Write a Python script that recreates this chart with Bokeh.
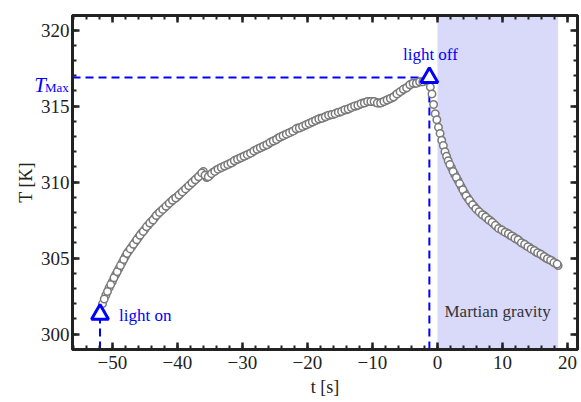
from bokeh.plotting import figure
from bokeh.models import (Range1d, FixedTicker, LinearAxis, BoxAnnotation, Label)
from bokeh.embed import file_html
from bokeh.resources import INLINE

# ---------------- data ----------------
heat_t = [-51.5, -51.0, -50.5, -50.0, -49.5, -49.0, -48.5, -48.0, -47.5, -47.0,
          -46.5, -46.0, -45.5, -45.0, -44.5, -44.0, -43.5, -43.0, -42.5, -42.0,
          -41.5, -41.0, -40.5, -40.0, -39.5, -39.0, -38.5, -38.0, -37.5, -37.0,
          -36.5, -36.0, -35.5, -35.0, -34.5, -34.0, -33.5, -33.0, -32.5, -32.0,
          -31.5, -31.0, -30.5, -30.0, -29.5, -29.0, -28.5, -28.0, -27.5, -27.0,
          -26.5, -26.0, -25.5, -25.0, -24.5, -24.0, -23.5, -23.0, -22.5, -22.0,
          -21.5, -21.0, -20.5, -20.0, -19.5, -19.0, -18.5, -18.0, -17.5, -17.0,
          -16.5, -16.0, -15.5, -15.0, -14.5, -14.0, -13.5, -13.0, -12.5, -12.0,
          -11.5, -11.0, -10.5, -10.0, -9.5, -9.0, -8.5, -8.0, -7.5, -7.0,
          -6.5, -6.0, -5.5, -5.0, -4.5, -4.0, -3.5, -3.0, -2.5, -2.0, -1.5]
heat_T = [302.0, 302.55, 303.05, 303.45, 303.9, 304.3, 304.7, 305.1, 305.45, 305.75,
          306.05, 306.35, 306.65, 306.9, 307.15, 307.4, 307.65, 307.9, 308.1, 308.3,
          308.5, 308.7, 308.9, 309.05, 309.25, 309.45, 309.65, 309.85, 310.05, 310.25,
          310.45, 310.7, 310.3, 310.45, 310.65, 310.8, 310.9, 311.0, 311.1, 311.2,
          311.3, 311.45, 311.55, 311.65, 311.75, 311.85, 311.95, 312.1, 312.2, 312.3,
          312.4, 312.5, 312.65, 312.75, 312.9, 313.0, 313.1, 313.2, 313.3, 313.4,
          313.55, 313.6, 313.7, 313.8, 313.9, 314.0, 314.1, 314.2, 314.25, 314.35,
          314.4, 314.45, 314.55, 314.6, 314.7, 314.75, 314.85, 314.95, 315.0, 315.1,
          315.2, 315.25, 315.3, 315.3, 315.25, 315.2, 315.25, 315.35, 315.45, 315.55,
          315.7, 315.85, 316.0, 316.15, 316.3, 316.45, 316.5, 316.55, 316.6, 316.65, 316.75]

heat2_t = [-51.25, -50.75, -50.25, -49.75, -49.25, -48.75, -48.25, -47.75, -47.25, -46.75,
           -46.25, -45.75, -45.25, -44.75, -44.25, -43.75, -43.25, -42.75, -42.25, -41.75,
           -41.25, -40.75, -40.25, -39.75, -39.25, -38.75, -38.25, -37.75, -37.25, -36.75,
           -36.25, -35.75, -35.25, -34.75, -34.25, -33.75, -33.25, -32.75, -32.25, -31.75,
           -31.25, -30.75, -30.25, -29.75, -29.25, -28.75, -28.25, -27.75, -27.25, -26.75,
           -26.25, -25.75, -25.25, -24.75, -24.25, -23.75, -23.25, -22.75, -22.25, -21.75,
           -21.25, -20.75, -20.25, -19.75, -19.25, -18.75, -18.25, -17.75, -17.25, -16.75,
           -16.25, -15.75, -15.25, -14.75, -14.25, -13.75, -13.25, -12.75, -12.25, -11.75,
           -11.25, -10.75, -10.25, -9.75, -9.25, -8.75, -8.25, -7.75, -7.25, -6.75,
           -6.25, -5.75, -5.25, -4.75, -4.25, -3.75, -3.25, -2.75, -2.25, -1.75]
heat2_T = [302.3, 302.8, 303.25, 303.7, 304.1, 304.5, 304.9, 305.3, 305.6, 305.9,
           306.2, 306.5, 306.75, 307.05, 307.3, 307.5, 307.8, 308.0, 308.2, 308.4,
           308.6, 308.8, 308.95, 309.15, 309.35, 309.55, 309.75, 309.95, 310.15, 310.35,
           310.6, 310.45, 310.35, 310.55, 310.7, 310.85, 310.95, 311.05, 311.15, 311.25,
           311.4, 311.5, 311.6, 311.7, 311.8, 311.9, 312.05, 312.15, 312.25, 312.35,
           312.45, 312.6, 312.7, 312.8, 312.95, 313.05, 313.15, 313.25, 313.35, 313.5,
           313.55, 313.65, 313.75, 313.85, 313.95, 314.05, 314.15, 314.2, 314.3, 314.4,
           314.45, 314.5, 314.6, 314.65, 314.75, 314.8, 314.9, 315.0, 315.05, 315.15,
           315.2, 315.3, 315.3, 315.3, 315.2, 315.2, 315.3, 315.4, 315.5, 315.6,
           315.8, 315.95, 316.1, 316.2, 316.4, 316.5, 316.5, 316.6, 316.6, 316.7]

cool_t = [-1.1, -0.85, -0.6, -0.35, -0.1, 0.15, 0.4, 0.65, 0.9, 1.15, 1.4, 1.65,
          2.15, 2.65, 3.15, 3.65, 4.15, 4.65, 5.15, 5.65, 6.15, 6.65, 7.15, 7.65,
          8.15, 8.65, 9.15, 9.65, 10.15, 10.65, 11.15, 11.65, 12.15, 12.65, 13.15,
          13.65, 14.15, 14.65, 15.15, 15.65, 16.15, 16.65, 17.15, 17.65, 18.15, 18.55]
cool_T = [316.25, 315.8, 315.1, 314.5, 314.1, 313.6, 313.2, 312.75, 312.4, 312.0, 311.7, 311.4,
          310.95, 310.5, 310.1, 309.7, 309.3, 308.95, 308.65, 308.4, 308.15, 307.95, 307.8, 307.6,
          307.45, 307.25, 307.05, 306.9, 306.75, 306.65, 306.5, 306.4, 306.25, 306.1, 305.95,
          305.8, 305.7, 305.55, 305.4, 305.3, 305.15, 305.0, 304.9, 304.8, 304.65, 304.5]

cool2_t = [1.9, 2.4, 2.9, 3.4, 3.9, 4.4, 4.9, 5.4, 5.9, 6.4, 6.9, 7.4, 7.9, 8.4, 8.9,
           9.4, 9.9, 10.4, 10.9, 11.4, 11.9, 12.4, 12.9, 13.4, 13.9, 14.4, 14.9, 15.4,
           15.9, 16.4, 16.9, 17.4, 17.9, 18.4]
cool2_T = [311.15, 310.7, 310.3, 309.9, 309.5, 309.1, 308.8, 308.5, 308.25, 308.05, 307.85,
           307.7, 307.5, 307.35, 307.15, 306.95, 306.85, 306.7, 306.6, 306.45, 306.3, 306.2,
           306.0, 305.9, 305.75, 305.6, 305.5, 305.35, 305.25, 305.1, 304.95, 304.85, 304.7, 304.6]

light_on = (-51.9, 301.3)
light_off = (-1.25, 316.88)
gravity_span = (0.0, 18.55)

x_ticks = [-50, -40, -30, -20, -10, 0, 10, 20]
x_tick_labels = ["\u221250", "\u221240", "\u221230", "\u221220", "\u221210", "0", "10", "20"]
y_ticks = [300, 305, 310, 315, 320]

X_RANGE = (-56.13, 21.53)
Y_RANGE = (298.98, 320.96)

SERIF = "Liberation Serif"
DARK = "#222222"
BLUE = "#0000ff"
GRAY = "#7a7a7a"

p = figure(width=581, height=402, output_backend="svg", toolbar_location=None,
           x_range=Range1d(*X_RANGE), y_range=Range1d(*Y_RANGE),
           min_border_left=70, min_border_right=4, min_border_top=11, min_border_bottom=53,
           x_axis_location=None, y_axis_location=None)
p.grid.visible = False
p.outline_line_color = DARK
p.outline_line_width = 3
p.background_fill_color = "white"
p.border_fill_color = "white"

x_minor = [v for v in range(-56, 22, 2)]
y_minor = [v for v in range(299, 321)]
xt = FixedTicker(ticks=x_ticks, minor_ticks=x_minor)
yt = FixedTicker(ticks=y_ticks, minor_ticks=y_minor)


def style(ax, show_labels):
    ax.axis_line_color = DARK
    ax.axis_line_width = 3
    ax.major_tick_in = 7
    ax.major_tick_out = 0
    ax.minor_tick_in = 4
    ax.minor_tick_out = 0
    ax.major_tick_line_color = DARK
    ax.minor_tick_line_color = DARK
    ax.major_tick_line_width = 2.5
    ax.minor_tick_line_width = 2
    ax.major_label_text_font = SERIF
    ax.major_label_text_color = DARK
    ax.axis_label_text_font = SERIF
    ax.axis_label_text_font_style = "normal"
    ax.axis_label_text_color = DARK
    if not show_labels:
        ax.major_label_text_font_size = "0px"
        ax.major_label_standoff = 0


bottom = LinearAxis(ticker=xt, axis_label="t [s]")
style(bottom, True)
bottom.major_label_overrides = {t: s for t, s in zip(x_ticks, x_tick_labels)}
bottom.major_label_text_font_size = "19px"
bottom.major_label_standoff = 6
bottom.axis_label_text_font_size = "18px"
bottom.axis_label_standoff = 5
p.add_layout(bottom, "below")

left = LinearAxis(ticker=yt, axis_label="T [K]")
style(left, True)
left.major_label_text_font_size = "19px"
left.major_label_standoff = 3
left.axis_label_text_font_size = "18px"
left.axis_label_standoff = 2
p.add_layout(left, "left")

top = LinearAxis(ticker=xt)
style(top, False)
top.major_label_overrides = {t: "" for t in x_ticks}
p.add_layout(top, "above")

right = LinearAxis(ticker=yt)
style(right, False)
right.major_label_overrides = {t: "" for t in y_ticks}
p.add_layout(right, "right")

# shaded Martian gravity region
p.add_layout(BoxAnnotation(left=gravity_span[0], right=gravity_span[1],
                           fill_color="#d9d9fa", fill_alpha=1.0, line_alpha=0, level="underlay"))

# dashed guide lines
p.line([X_RANGE[0], light_off[0]], [light_off[1], light_off[1]], line_color=BLUE,
       line_width=2, line_dash="8 5")
p.line([light_off[0], light_off[0]], [Y_RANGE[0], light_off[1]], line_color=BLUE,
       line_width=2, line_dash="8 5")
p.line([light_on[0], light_on[0]], [Y_RANGE[0], light_on[1]], line_color=BLUE,
       line_width=2, line_dash="8 5")

# data
for xs, ys in ((heat_t, heat_T), (heat2_t, heat2_T), (cool_t, cool_T), (cool2_t, cool2_T)):
    p.scatter(xs, ys, marker="circle", size=7.5, line_color=GRAY,
              fill_color="white", line_width=1.5)

# triangles
p.scatter([light_on[0], light_off[0]], [light_on[1], light_off[1]], marker="triangle",
          size=17, line_color=BLUE, fill_color="white", line_width=3)

# texts inside the frame
p.add_layout(Label(x=-48.97, y=301.2, text="light on", text_font=SERIF,
                   text_font_size="17px", text_color=BLUE, text_baseline="middle"))
p.add_layout(Label(x=-1.09, y=318.42, text="light off", text_font=SERIF,
                   text_font_size="17px", text_color=BLUE, text_align="center",
                   text_baseline="middle"))
p.add_layout(Label(x=9.24, y=301.45, text="Martian gravity", text_font=SERIF,
                   text_font_size="17px", text_color="#333333", text_align="center",
                   text_baseline="middle"))

# T_Max label, left of the frame (side-panel labels are not clipped to the frame)
p.add_layout(Label(x=-62.0, y=316.4, text="T", text_font=SERIF,
                   text_font_style="italic", text_font_size="21px", text_color=BLUE,
                   text_baseline="alphabetic"), "left")
p.add_layout(Label(x=-60.37, y=316.25, text="Max", text_font=SERIF,
                   text_font_size="13px", text_color=BLUE,
                   text_baseline="alphabetic"), "above")

open("out.html", "w").write(file_html(p, INLINE))
